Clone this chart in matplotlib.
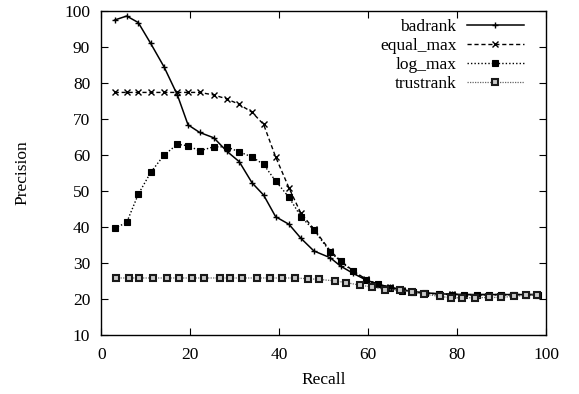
import matplotlib
matplotlib.use('Agg')
import matplotlib.pyplot as plt

# recall values shared by badrank / equal_max / log_max
recall = [3.0, 5.7, 8.3, 11.1, 14.1, 17.1, 19.5, 22.1, 25.3, 28.2, 31.0, 33.9,
          36.5, 39.2, 42.2, 44.9, 47.8, 51.5, 53.8, 56.6, 59.6, 62.2, 65.0,
          67.6, 70.2, 72.8, 76.0, 78.9, 81.6, 84.4, 87.2, 89.9, 92.8, 95.4, 98.2]
badrank = [97.4, 98.5, 96.7, 90.9, 84.4, 76.6, 68.3, 66.2, 64.7, 61.0, 58.1, 52.2,
           48.8, 42.8, 40.7, 36.8, 33.3, 31.4, 29.1, 27.1, 25.2, 24.1, 23.2,
           22.6, 22.0, 21.7, 21.4, 21.3, 21.2, 21.2, 21.2, 21.2, 21.2, 21.2, 21.2]
equal_max = [77.3, 77.3, 77.3, 77.3, 77.3, 77.3, 77.3, 77.3, 76.6, 75.5, 74.0, 71.8,
             68.4, 59.4, 50.8, 43.7, 39.4, 33.3, 30.6, 27.8, 25.4, 24.1, 23.2,
             22.4, 22.0, 21.6, 21.4, 21.3, 21.2, 21.2, 21.2, 21.2, 21.2, 21.2, 21.2]
log_max = [39.6, 41.2, 49.0, 55.1, 59.9, 62.9, 62.5, 61.1, 62.2, 62.2, 60.8, 59.4,
           57.3, 52.7, 48.2, 42.8, 39.1, 33.0, 30.4, 27.6, 25.2, 24.0, 23.0,
           22.3, 21.9, 21.5, 21.3, 21.2, 21.1, 21.1, 21.1, 21.1, 21.1, 21.1, 21.1]

trust_recall = [3.2, 6.2, 8.5, 11.6, 14.7, 17.5, 20.5, 23.0, 26.6, 29.0, 31.7, 34.9,
                38.0, 40.6, 43.5, 46.5, 48.9, 52.5, 55.1, 58.2, 60.9, 63.9, 67.1,
                69.9, 72.5, 76.1, 78.7, 81.2, 84.1, 87.1, 89.8, 92.9, 95.4, 97.9]
trustrank = [25.8, 25.8, 25.8, 25.8, 25.8, 25.8, 25.8, 25.8, 25.8, 25.8, 25.8, 25.8,
             25.8, 25.8, 25.8, 25.6, 25.4, 25.0, 24.5, 23.8, 23.3, 22.6, 22.4,
             21.9, 21.3, 20.7, 20.3, 20.3, 20.3, 20.4, 20.4, 20.7, 21.0, 21.2]

x_ticks = [0, 20, 40, 60, 80, 100]
y_ticks = [10, 20, 30, 40, 50, 60, 70, 80, 90, 100]

plt.rcParams['font.family'] = ['Liberation Serif', 'DejaVu Serif']
plt.rcParams['font.size'] = 12.5

fig = plt.figure(figsize=(5.79, 3.94), dpi=100)
ax = fig.add_axes([0.175, 0.150, 0.768, 0.823])

ax.plot(recall, badrank, color='black', lw=1.1, ls='-',
        marker='+', ms=5, mew=1.0, label='badrank')
ax.plot(recall, equal_max, color='black', lw=1.0, ls=(0, (3, 2)),
        marker='x', ms=4.5, mew=1.0, label='equal_max')
ax.plot(recall, log_max, color='black', lw=1.0, ls=(0, (1, 1.5)),
        marker='s', ms=3.8, mew=0.8, label='log_max')
ax.plot(trust_recall, trustrank, color='#666666', lw=0.9, ls=(0, (1, 1)),
        marker='s', ms=5, mfc='#c8c8c8', mec='#1a1a1a', mew=1.5, label='trustrank')

ax.set_xlim(0, 100)
ax.set_ylim(10, 100)
ax.set_xticks(x_ticks)
ax.set_yticks(y_ticks)
ax.tick_params(direction='in', length=5, width=0.8, top=True, right=True)
ax.tick_params(axis='x', pad=9)
ax.tick_params(axis='y', pad=8)
for s in ax.spines.values():
    s.set_linewidth(1.0)

ax.set_xlabel('Recall', labelpad=6)
ax.set_ylabel('Precision', labelpad=24)

ax.legend(loc='upper right', bbox_to_anchor=(0.982, 1.016), frameon=False,
          markerfirst=False, handlelength=3.3, handletextpad=0.6,
          labelspacing=0.15, borderaxespad=0.4)

fig.savefig('out.png', dpi=100)
